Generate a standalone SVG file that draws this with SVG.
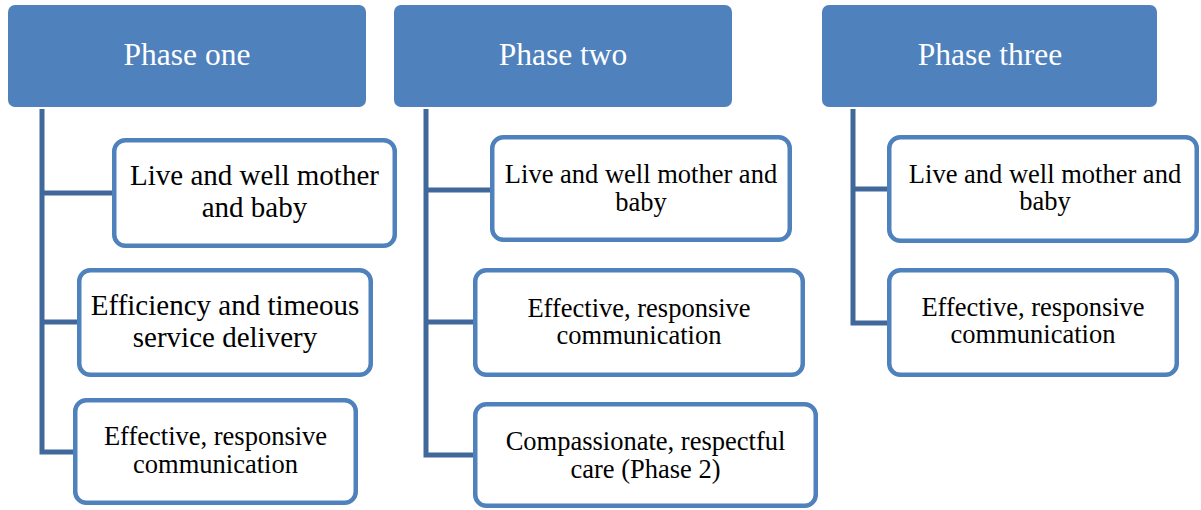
<svg xmlns="http://www.w3.org/2000/svg" width="1201" height="510" viewBox="0 0 1201 510">
  <style>
    .head { fill: #4F81BD; }
    .head-text { font-family: "Liberation Serif", "Times New Roman", serif; font-size: 31.5px; fill: #FFFFFF; text-anchor: middle; }
    .item { fill: #FFFFFF; stroke: #4F81BD; stroke-width: 4.5; }
    .item-text { font-family: "Liberation Serif", "Times New Roman", serif; fill: #000000; text-anchor: middle; }
    .lg { font-size: 29px; }
    .sm { font-size: 26.5px; }
    .link { fill: none; stroke: #41689A; stroke-width: 5; stroke-linejoin: miter; stroke-linecap: butt; }
  </style>
  <rect width="1201" height="510" fill="#FFFFFF"/>

  <!-- branch lines from each phase header to its items -->
  <g id="connectors">
    <path class="link" d="M42,109 V452 H73"/>
    <path class="link" d="M42,193 H112"/>
    <path class="link" d="M42,322 H77"/>
    <path class="link" d="M426,109 V455 H473"/>
    <path class="link" d="M426,190 H490"/>
    <path class="link" d="M426,322 H473"/>
    <path class="link" d="M853,109 V323 H887"/>
    <path class="link" d="M853,189 H887"/>
  </g>

  <!-- phase one -->
  <g id="phase-one">
    <rect class="head" x="8" y="5" width="358" height="102" rx="7"/>
    <text class="head-text" x="187" y="65">Phase one</text>
  </g>
  <g id="p1-live-well">
    <rect class="item" x="114.25" y="140.25" width="280.5" height="105.5" rx="11"/>
    <text class="item-text lg" x="254.5" y="185">Live and well mother</text>
    <text class="item-text lg" x="254.5" y="217">and baby</text>
  </g>
  <g id="p1-efficiency">
    <rect class="item" x="79.25" y="270.25" width="291.5" height="104.5" rx="11"/>
    <text class="item-text lg" x="225" y="315">Efficiency and timeous</text>
    <text class="item-text lg" x="225" y="347">service delivery</text>
  </g>
  <g id="p1-communication">
    <rect class="item" x="75.25" y="400.25" width="280.5" height="102.5" rx="11"/>
    <text class="item-text sm" x="215.5" y="445">Effective, responsive</text>
    <text class="item-text sm" x="215.5" y="473">communication</text>
  </g>

  <!-- phase two -->
  <g id="phase-two">
    <rect class="head" x="394" y="5" width="338" height="102" rx="7"/>
    <text class="head-text" x="563" y="65">Phase two</text>
  </g>
  <g id="p2-live-well">
    <rect class="item" x="492.25" y="137.25" width="297.5" height="102.5" rx="11"/>
    <text class="item-text sm" x="641" y="183">Live and well mother and</text>
    <text class="item-text sm" x="641" y="211">baby</text>
  </g>
  <g id="p2-communication">
    <rect class="item" x="475.25" y="270.25" width="327.5" height="104.5" rx="11"/>
    <text class="item-text sm" x="639" y="317">Effective, responsive</text>
    <text class="item-text sm" x="639" y="344">communication</text>
  </g>
  <g id="p2-care">
    <rect class="item" x="475.25" y="404.25" width="340.5" height="101.5" rx="11"/>
    <text class="item-text sm" x="645.5" y="450">Compassionate, respectful</text>
    <text class="item-text sm" x="645.5" y="478">care (Phase 2)</text>
  </g>

  <!-- phase three -->
  <g id="phase-three">
    <rect class="head" x="822" y="5" width="335" height="102" rx="7"/>
    <text class="head-text" x="990" y="65">Phase three</text>
  </g>
  <g id="p3-live-well">
    <rect class="item" x="889.25" y="137.25" width="307.5" height="103.5" rx="11"/>
    <text class="item-text sm" x="1045" y="183">Live and well mother and</text>
    <text class="item-text sm" x="1045" y="210">baby</text>
  </g>
  <g id="p3-communication">
    <rect class="item" x="889.25" y="270.25" width="287.5" height="104.5" rx="11"/>
    <text class="item-text sm" x="1033" y="316">Effective, responsive</text>
    <text class="item-text sm" x="1033" y="343">communication</text>
  </g>
</svg>
